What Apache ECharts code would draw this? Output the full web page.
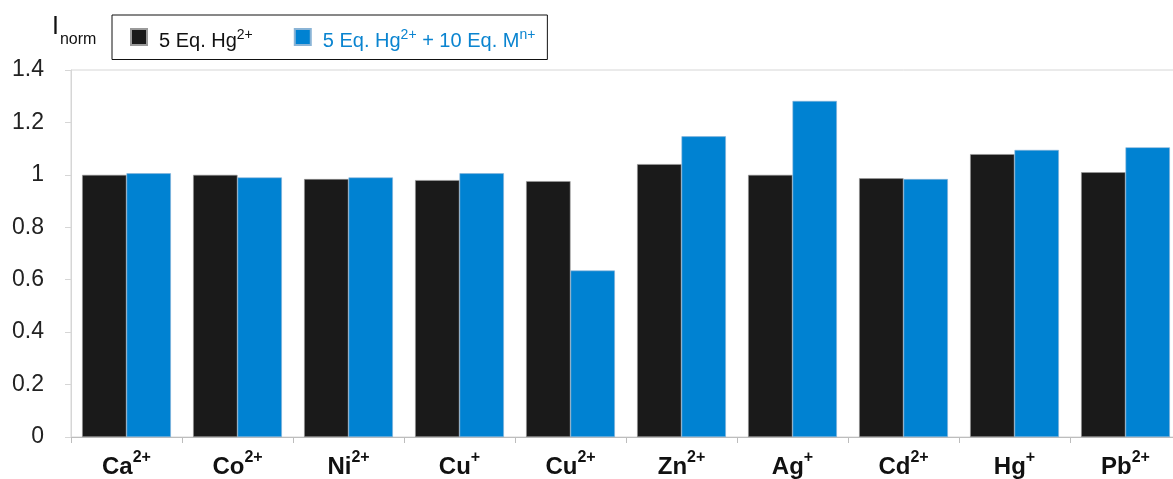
<!DOCTYPE html>
<html>
<head>
<meta charset="utf-8">
<script src="https://cdn.jsdelivr.net/npm/echarts@6/dist/echarts.min.js"></script>
<style>html,body{margin:0;padding:0;background:#fff;overflow:hidden}#c{width:1181px;height:479px}</style>
</head>
<body>
<div id="c"></div>
<script>
var categories = ['Ca2+', 'Co2+', 'Ni2+', 'Cu+', 'Cu2+', 'Zn2+', 'Ag+', 'Cd2+', 'Hg+', 'Pb2+'];
var seriesHg = [1.00, 1.00, 0.984, 0.98, 0.976, 1.041, 1.00, 0.987, 1.079, 1.010];
var seriesHgM = [1.006, 0.99, 0.99, 1.006, 0.635, 1.147, 1.282, 0.984, 1.095, 1.105];
var seriesNames = ['5 Eq. Hg2+', '5 Eq. Hg2+ + 10 Eq. Mn+'];
var yTicks = { min: 0, max: 1.4, interval: 0.2 };

var FONT = '"Liberation Sans", Arial, sans-serif';
var chart = echarts.init(document.getElementById('c'), null, { renderer: 'canvas' });

function catLabel(v) {
  var m = v.match(/^([A-Za-z]+)(.*)$/);
  return '{b|' + m[1] + '}{s|' + m[2] + '}';
}

chart.setOption({
  animation: false,
  backgroundColor: '#fff',
  title: {
    text: '{i|I}{n|norm}',
    left: 47, top: 2,
    textStyle: {
      fontWeight: 'normal',
      rich: {
        i: { fontFamily: FONT, fontSize: 25, fontWeight: 'normal', color: '#111' },
        n: { fontFamily: FONT, fontSize: 16, fontWeight: 'normal', color: '#111', padding: [25, 0, 0, 1] }
      }
    }
  },
  legend: {
    left: 112, top: 15,
    padding: [13, 12, 8, 18],
    borderColor: '#111', borderWidth: 1,
    itemWidth: 16, itemHeight: 16, itemGap: 41,
    icon: 'rect',
    data: [
      { name: seriesNames[0] },
      { name: seriesNames[1] }
    ],
    formatter: function (name) {
      if (name === seriesNames[0]) {
        return '{k0|5 Eq. Hg}{ks|2+}';
      }
      return '{c0|5 Eq. Hg}{cs|2+}{c| + 10 Eq. M}{cs|n+}';
    },
    textStyle: {
      fontFamily: FONT, fontSize: 20,
      rich: {
        k0: { fontFamily: FONT, fontSize: 20, color: '#111', padding: [9, 0, 0, 7] },
        ks: { fontFamily: FONT, fontSize: 14, color: '#111', padding: [0, 0, 4, 0] },
        c0: { fontFamily: FONT, fontSize: 20, color: '#0a84d0', padding: [9, 0, 0, 7] },
        c: { fontFamily: FONT, fontSize: 20, color: '#0a84d0', padding: [9, 0, 0, 0] },
        cs: { fontFamily: FONT, fontSize: 14, color: '#0a84d0', padding: [0, 0, 4, 0] }
      }
    }
  },
  grid: {
    left: 71, right: 0, top: 70, bottom: 39,
    show: true, borderColor: '#d6d6d6', borderWidth: 1
  },
  xAxis: {
    type: 'category',
    data: categories,
    axisLine: { lineStyle: { color: '#bdbdbd', width: 1 } },
    axisTick: { show: true, length: 6, lineStyle: { color: '#bdbdbd' } },
    axisLabel: {
      margin: 9,
      formatter: catLabel,
      rich: {
        b: { fontFamily: FONT, fontSize: 24, fontWeight: 'bold', color: '#111', padding: [9, 0, 0, 0] },
        s: { fontFamily: FONT, fontSize: 16, fontWeight: 'bold', color: '#111', padding: [0, 0, 9, 0] }
      }
    }
  },
  yAxis: {
    type: 'value',
    min: yTicks.min, max: yTicks.max, interval: yTicks.interval,
    axisLine: { show: true, lineStyle: { color: '#d6d6d6', width: 1 } },
    axisTick: { show: true, length: 6, lineStyle: { color: '#d6d6d6' } },
    splitLine: { show: false },
    axisLabel: { margin: 27, fontFamily: FONT, fontSize: 23, color: '#222' }
  },
  series: [
    {
      name: seriesNames[0], type: 'bar', data: seriesHg,
      barGap: '0%', barCategoryGap: '20%',
      itemStyle: { color: '#1a1a1a', borderColor: '#9a9a9a', borderWidth: 0.6 }
    },
    {
      name: seriesNames[1], type: 'bar', data: seriesHgM,
      barGap: '0%', barCategoryGap: '20%',
      itemStyle: { color: '#0082d2', borderColor: '#8ab4d6', borderWidth: 0.6 }
    }
  ]
});
</script>
</body>
</html>
